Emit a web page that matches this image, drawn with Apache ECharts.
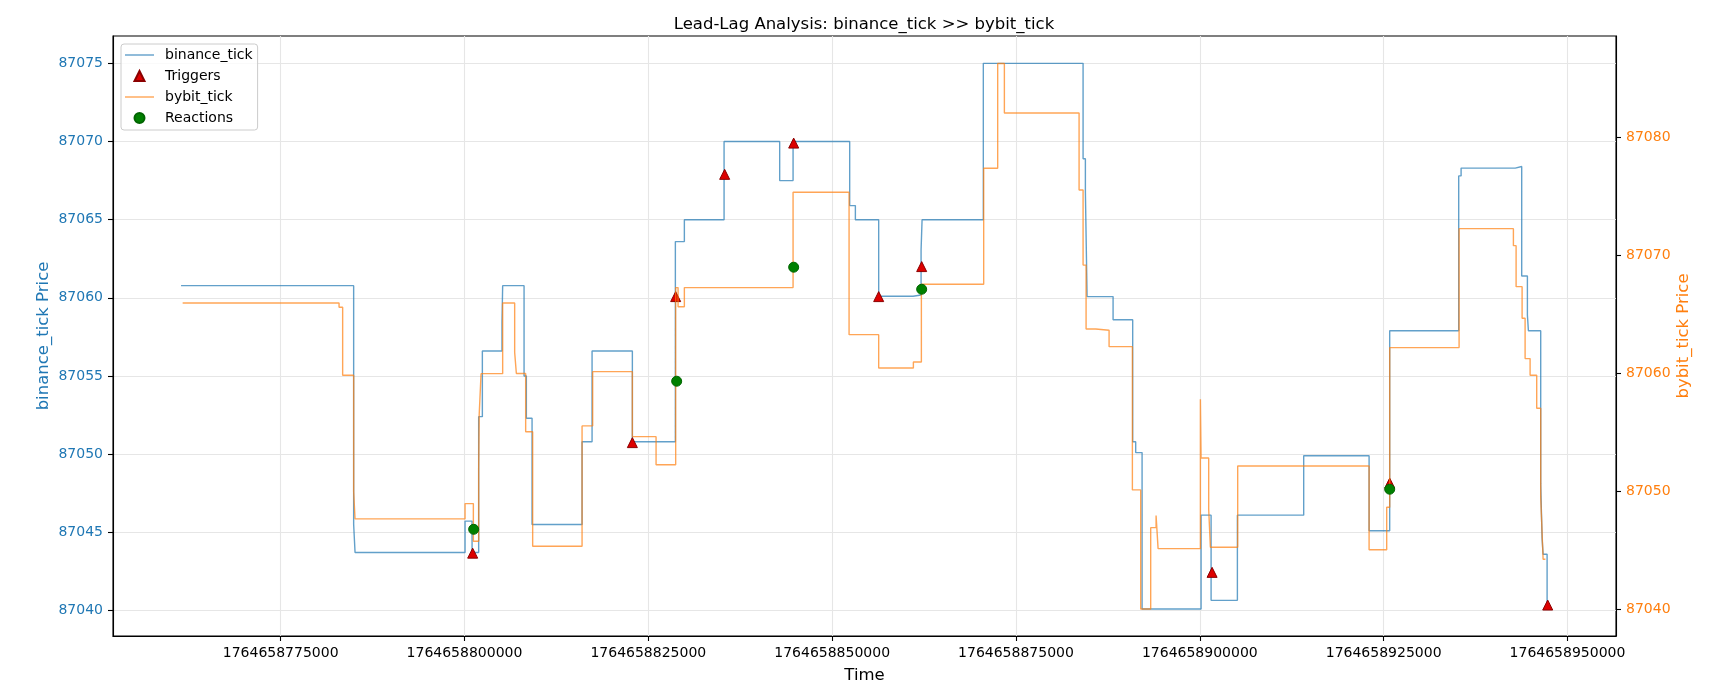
<!DOCTYPE html>
<html>
<head>
<meta charset="utf-8">
<title>Lead-Lag Analysis</title>
<script src="https://cdn.jsdelivr.net/npm/echarts@6/dist/echarts.min.js"></script>
<style>
  html, body { margin: 0; padding: 0; background: #fff; }
  #main { width: 1728px; height: 697px; }
</style>
</head>
<body>
<div id="main"></div>
<script>
// binance_tick (left axis), step points: time (ms) / price
var binanceTime = [
  1764658761454, 1764658784928, 1764658785118, 1764658800078, 1764658801030,
  1764658801928, 1764658802431, 1764658805100, 1764658805192, 1764658808102,
  1764658808415, 1764658809190, 1764658815990, 1764658817350, 1764658822831,
  1764658828679, 1764658829903, 1764658835302, 1764658842864, 1764658844686,
  1764658852384, 1764658853159, 1764658856328, 1764658861006, 1764658862094,
  1764658862230, 1764658870560, 1764658884126, 1764658884439, 1764658884670,
  1764658888206, 1764658890872, 1764658891280, 1764658892150, 1764658900174,
  1764658901534, 1764658905111, 1764658914128, 1764658923022, 1764658925824,
  1764658935208, 1764658935534, 1764658942900, 1764658943776, 1764658944551,
  1764658944688, 1764658946360, 1764658946550, 1764658946686, 1764658947230,
  1764658947312
];
var binancePrice = [
  87060.78, 87045.50, 87043.71, 87045.72, 87043.71,
  87052.40, 87056.60, 87058.40, 87060.78, 87055.00,
  87052.30, 87045.50, 87050.80, 87056.60, 87050.80,
  87063.60, 87065.00, 87070.00, 87067.50, 87070.00,
  87065.90, 87065.00, 87060.10, 87060.18, 87063.07,
  87065.00, 87075.00, 87068.90, 87066.80, 87060.08,
  87058.60, 87050.80, 87050.10, 87040.10, 87046.10,
  87040.65, 87046.10, 87049.90, 87045.10, 87057.90,
  87067.80, 87068.30, 87068.40, 87061.40, 87058.90,
  87057.90, 87048.10, 87044.60, 87043.60, 87040.36,
  87040.36
];

// bybit_tick (right axis)
var bybitTime = [
  1764658761672, 1764658782942, 1764658783432, 1764658784928, 1764658785118,
  1764658800078, 1764658801207, 1764658801928, 1764658802000, 1764658802254,
  1764658805192, 1764658806824, 1764658807055, 1764658808320, 1764658809272,
  1764658815990, 1764658817432, 1764658822831, 1764658826054, 1764658828720,
  1764658829046, 1764658829903, 1764658844686, 1764658852302, 1764658856328,
  1764658861047, 1764658862135, 1764658870608, 1764658872512, 1764658873423,
  1764658883582, 1764658884126, 1764658884534, 1764658885840, 1764658887662,
  1764658890831, 1764658891960, 1764658893320, 1764658894054, 1764658894326,
  1764658900079, 1764658900174, 1764658901208, 1764658901439, 1764658905152,
  1764658923022, 1764658925416, 1764658925824, 1764658935262, 1764658942647,
  1764658943014, 1764658943830, 1764658944238, 1764658944918, 1764658945816,
  1764658946360, 1764658946550, 1764658946686, 1764658947000
];
var bybitPrice = [
  87065.99, 87065.62, 87059.86, 87049.98, 87047.67,
  87048.97, 87045.78, 87051.90, 87056.50, 87059.99,
  87065.99, 87061.80, 87060.00, 87055.07, 87045.35,
  87055.56, 87060.16, 87054.65, 87052.27, 87067.29,
  87065.67, 87067.29, 87075.38, 87063.30, 87060.47,
  87060.98, 87067.57, 87077.41, 87086.30, 87082.10,
  87075.57, 87069.20, 87063.78, 87063.67, 87062.28,
  87050.13, 87040.03, 87046.93, 87047.95, 87045.15,
  87057.82, 87052.84, 87048.49, 87045.27, 87052.16,
  87045.06, 87048.66, 87062.20, 87072.29, 87070.85,
  87067.37, 87064.69, 87061.27, 87059.86, 87057.06,
  87049.56, 87046.45, 87044.25, 87044.25
];

// trigger points (binance) and reaction points (bybit)
var triggerTime = [
  1764658801112, 1764658822831, 1764658828720, 1764658835384, 1764658844768,
  1764658856328, 1764658862176, 1764658901670, 1764658925824, 1764658947312
];
var triggerPrice = [
  87043.67, 87050.74, 87060.08, 87067.90, 87069.90,
  87060.08, 87062.00, 87042.44, 87048.15, 87040.35
];
var reactionTime = [1764658801248, 1764658828856, 1764658844768, 1764658862176, 1764658925824];
var reactionPrice = [87046.79, 87059.35, 87069.02, 87067.15, 87050.19];

// tick labels
var timeTicks = [1764658775000, 1764658800000, 1764658825000, 1764658850000,
                 1764658875000, 1764658900000, 1764658925000, 1764658950000];
var binanceTicks = [87040, 87045, 87050, 87055, 87060, 87065, 87070, 87075];
var bybitTicks = [87040, 87050, 87060, 87070, 87080];

function zip(a, b) {
  var out = [];
  for (var i = 0; i < a.length; i++) out.push([a[i], b[i]]);
  return out;
}

var FONT = 'DejaVu Sans';
var BLUE = '#1f77b4';
var ORANGE = '#ff7f0e';
var LINE_ICON = 'path://M0,0H29V1.4H0Z';

var myChart = echarts.init(document.getElementById('main'));

var option = {
  animation: false,
  backgroundColor: '#fff',
  textStyle: { fontFamily: FONT },
  title: {
    text: 'Lead-Lag Analysis: binance_tick >> bybit_tick',
    left: 'center',
    top: 11,
    textStyle: { fontFamily: FONT, fontSize: 16.5, fontWeight: 'normal', color: '#000' }
  },
  legend: {
    orient: 'vertical',
    left: 121,
    top: 44,
    padding: [4, 5, 5, 4],
    itemGap: 7,
    itemWidth: 29,
    itemHeight: 10,
    symbolKeepAspect: true,
    backgroundColor: 'rgba(255,255,255,0.8)',
    borderColor: '#cccccc',
    borderWidth: 1,
    borderRadius: 3,
    textStyle: { fontFamily: FONT, fontSize: 14, color: '#000', padding: [0, 0, 0, 6] },
    data: [
      { name: 'binance_tick', icon: LINE_ICON, itemStyle: { color: BLUE, opacity: 0.7, borderWidth: 0 } },
      { name: 'Triggers', icon: 'path://M5,0L10,10L0,10Z' },
      { name: 'bybit_tick', icon: LINE_ICON, itemStyle: { color: ORANGE, opacity: 0.7, borderWidth: 0 } },
      { name: 'Reactions', icon: 'circle' }
    ]
  },
  grid: {
    left: 113,
    right: 112,
    top: 36,
    bottom: 61,
    show: true,
    borderColor: '#000',
    borderWidth: 1.1,
    backgroundColor: 'transparent'
  },
  xAxis: {
    type: 'value',
    min: 1764658752200,
    max: 1764658956600,
    name: 'Time',
    nameLocation: 'middle',
    nameGap: 31,
    nameTextStyle: { fontFamily: FONT, fontSize: 16.5, color: '#000' },
    axisLine: { show: true, lineStyle: { color: '#000', width: 1.1 } },
    axisTick: { show: true, length: 5, customValues: timeTicks, lineStyle: { color: '#000', width: 1.1 } },
    axisLabel: {
      customValues: timeTicks,
      margin: 10,
      fontFamily: FONT,
      fontSize: 14,
      color: '#000',
      formatter: function (v) { return String(v); }
    },
    splitLine: { show: true, lineStyle: { color: '#e6e6e6', width: 1.1 } }
  },
  yAxis: [
    {
      type: 'value',
      position: 'left',
      min: 87038.37,
      max: 87076.75,
      name: 'binance_tick Price',
      nameLocation: 'middle',
      nameRotate: 90,
      nameGap: 61,
      nameMoveOverlap: false,
      nameTextStyle: { fontFamily: FONT, fontSize: 16.5, color: BLUE },
      axisLine: { show: true, lineStyle: { color: '#000', width: 1.1 } },
      axisTick: { show: true, length: 5, customValues: binanceTicks, lineStyle: { color: '#000', width: 1.1 } },
      axisLabel: {
        customValues: binanceTicks,
        margin: 10,
        fontFamily: FONT,
        fontSize: 14,
        color: BLUE,
        formatter: function (v) { return String(v); }
      },
      splitLine: { show: true, lineStyle: { color: '#e6e6e6', width: 1.1 } }
    },
    {
      type: 'value',
      position: 'right',
      min: 87037.74,
      max: 87088.63,
      name: 'bybit_tick Price',
      nameLocation: 'middle',
      nameRotate: 90,
      nameGap: 59,
      nameMoveOverlap: false,
      nameTextStyle: { fontFamily: FONT, fontSize: 16.5, color: ORANGE },
      axisLine: { show: true, lineStyle: { color: '#000', width: 1.1 } },
      axisTick: { show: true, length: 5, customValues: bybitTicks, lineStyle: { color: '#000', width: 1.1 } },
      axisLabel: {
        customValues: bybitTicks,
        margin: 10,
        fontFamily: FONT,
        fontSize: 14,
        color: ORANGE,
        formatter: function (v) { return String(v); }
      },
      splitLine: { show: false }
    }
  ],
  series: [
    {
      name: 'binance_tick',
      type: 'line',
      step: 'end',
      yAxisIndex: 0,
      symbol: 'none',
      showSymbol: false,
      z: 1,
      color: BLUE,
      lineStyle: { color: BLUE, width: 1.4, opacity: 0.7 },
      data: zip(binanceTime, binancePrice)
    },
    {
      name: 'Triggers',
      type: 'scatter',
      yAxisIndex: 0,
      symbol: 'triangle',
      symbolSize: 10,
      z: 2,
      itemStyle: { color: '#dd0000', borderColor: '#8b0000', borderWidth: 1, opacity: 1 },
      data: zip(triggerTime, triggerPrice)
    },
    {
      name: 'bybit_tick',
      type: 'line',
      step: 'end',
      yAxisIndex: 1,
      symbol: 'none',
      showSymbol: false,
      z: 3,
      color: ORANGE,
      lineStyle: { color: ORANGE, width: 1.4, opacity: 0.7 },
      data: zip(bybitTime, bybitPrice)
    },
    {
      name: 'Reactions',
      type: 'scatter',
      yAxisIndex: 1,
      symbol: 'circle',
      symbolSize: 10,
      z: 4,
      itemStyle: { color: '#008000', borderColor: '#006400', borderWidth: 1, opacity: 1 },
      data: zip(reactionTime, reactionPrice)
    }
  ]
};

myChart.setOption(option);
</script>
</body>
</html>
